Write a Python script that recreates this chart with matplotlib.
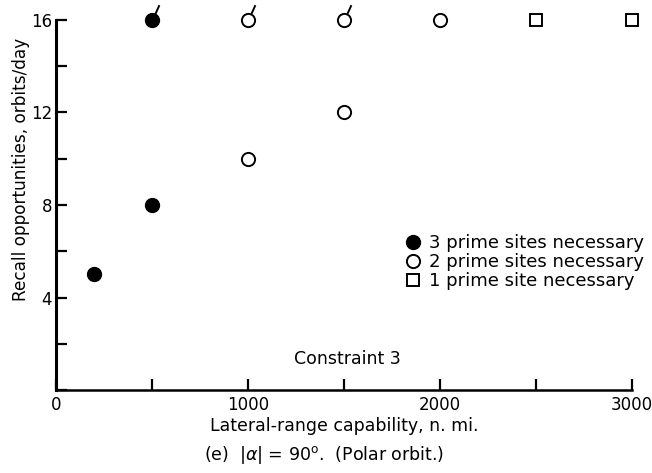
import matplotlib.pyplot as plt
from matplotlib.path import Path
from matplotlib.ticker import MultipleLocator

plt.rcParams['font.family'] = ['DejaVu Sans']

# lateral range (n. mi.) and recall opportunities (orbits/day)
three_x = [200, 500, 500]
three_y = [5, 8, 16]
two_x = [1000, 1500, 1000, 1500, 2000]
two_y = [10, 12, 16, 16, 16]
one_x = [2500, 3000]
one_y = [16, 16]
# points carrying the little flag stroke
flag_x = [500, 1000, 1500]
flag_y = [16, 16, 16]

fig = plt.figure(figsize=(6.52, 4.73), dpi=100)
ax = fig.add_axes([0.086, 0.175, 0.883, 0.783])

ax.plot(three_x, three_y, 'o', color='black', markersize=10, clip_on=False, zorder=3,
        label='3 prime sites necessary')
ax.plot(two_x, two_y, 'o', markerfacecolor='white', markeredgecolor='black', markeredgewidth=1.4,
        markersize=9.5, clip_on=False, zorder=3, label='2 prime sites necessary')
ax.plot(one_x, one_y, 's', markerfacecolor='white', markeredgecolor='black', markeredgewidth=1.4,
        markersize=9, clip_on=False, zorder=3, label='1 prime site necessary')

flag = Path([(0, 0), (0.45, 1.0)], [Path.MOVETO, Path.LINETO])
ax.plot(flag_x, flag_y, linestyle='none', marker=flag, markersize=22, markeredgewidth=1.4,
        color='black', clip_on=False, zorder=2)

ax.set_xlim(0, 3000)
ax.set_ylim(0, 16)
ax.xaxis.set_major_locator(MultipleLocator(1000))
ax.xaxis.set_minor_locator(MultipleLocator(500))
ax.yaxis.set_major_locator(MultipleLocator(4))
ax.yaxis.set_minor_locator(MultipleLocator(2))
ax.set_yticks([4, 8, 12, 16])

for side in ['top', 'right']:
    ax.spines[side].set_visible(False)
ax.spines['left'].set_linewidth(2.2)
ax.spines['bottom'].set_linewidth(1.8)

ax.tick_params(which='both', direction='in', width=1.6, length=8, labelsize=12)
ax.tick_params(axis='x', which='major', pad=4)
ax.tick_params(axis='y', which='major', pad=3)

ax.set_xlabel('Lateral-range capability, n. mi.', fontsize=12.5, labelpad=2)
ax.set_ylabel('Recall opportunities, orbits/day', fontsize=12.2)
ax.yaxis.set_label_coords(-0.045, 0.597)

ax.text(1520, 1.34, 'Constraint 3', fontsize=12.5, ha='center', va='center')

ax.legend(loc='upper left', bbox_to_anchor=(0.595, 0.44), frameon=False, fontsize=13,
          handlelength=0.8, handletextpad=0.5, labelspacing=0.05, borderaxespad=0)

fig.text(0.497, 0.037, r'(e)  |$\alpha$| = 90$^{\rm o}$.  (Polar orbit.)', fontsize=12.5,
         ha='center', va='center')

fig.savefig('out.png', dpi=100)
